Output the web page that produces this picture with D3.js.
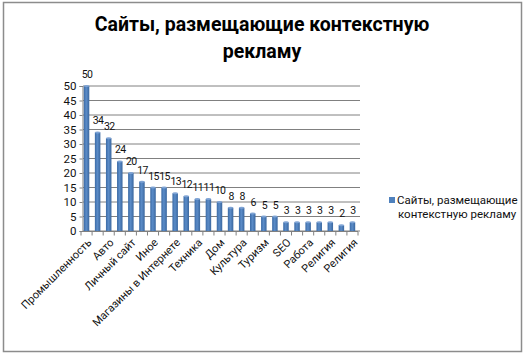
<!DOCTYPE html>
<html><head><meta charset="utf-8">
<script src="https://cdn.jsdelivr.net/npm/d3@7"></script>
<style>body{margin:0;background:#fff}svg{display:block}</style>
</head><body><svg id="c" width="525" height="355"></svg>
<script>
const categories = ["Промышленность","Финансы","Авто","Недвижимость","Личный сайт","Образование","Иное","Здоровье","Магазины в Интернете","Развлечения","Техника","Строительство","Дом","Красота","Культура","Спорт","Туризм","Услуги","SEO","Медицина","Работа","Хостинг","Религия","Дети","Религия"];
const values = [50,34,32,24,20,17,15,15,13,12,11,11,10,8,8,6,5,5,3,3,3,3,3,2,3];
const yTicks = [0,5,10,15,20,25,30,35,40,45,50];
const seriesName = "Сайты, размещающие контекстную рекламу";
const titleLines = ["Сайты, размещающие контекстную","рекламу"];

const font = "Roboto, 'Liberation Sans', sans-serif";
const svg = d3.select("#c");
svg.append("rect").attr("x",3.5).attr("y",2.5).attr("width",518).attr("height",349)
  .attr("fill","#fff").attr("stroke","#8c8c8c").attr("stroke-width",1.5);

const keys = categories.map((d,i)=>i);
const x = d3.scaleBand().domain(keys).range([81,358]).paddingInner(0).paddingOuter(0);
const y = d3.scaleLinear().domain([0,50]).range([231,86]);

// gridlines
svg.append("g").selectAll("line").data(yTicks).join("line")
  .attr("x1",83).attr("x2",360).attr("y1",d=>y(d)).attr("y2",d=>y(d))
  .attr("stroke","#808080").attr("stroke-width",1);

// y axis
const ya = d3.axisLeft(y).tickValues(yTicks).tickSize(3).tickPadding(3);
const gy = svg.append("g").attr("transform","translate(82.5,0)").call(ya);
gy.select(".domain").attr("stroke","#808080");
gy.selectAll(".tick line").attr("stroke","#808080");
gy.selectAll("text").attr("font-family",font).attr("font-size",11.5).attr("fill","#111");

// x axis
const gx = svg.append("g").attr("transform","translate(0,231.5)");
gx.append("line").attr("x1",x.range()[0]).attr("x2",x.range()[1]).attr("stroke","#808080");
gx.selectAll("line.t").data(d3.range(categories.length+1)).join("line").attr("class","t")
  .attr("x1",i=>x.range()[0]+i*x.step()).attr("x2",i=>x.range()[0]+i*x.step())
  .attr("y1",0).attr("y2",4).attr("stroke","#808080");
gx.selectAll("text").data(keys.filter(i=>i%2===0)).join("text")
  .attr("transform",i=>`translate(${x(i)+x.bandwidth()/2+3},${9}) rotate(-45)`)
  .attr("text-anchor","end").attr("dy","0.35em")
  .attr("font-family",font).attr("font-size",11).attr("fill","#111")
  .text(i=>categories[i]);

// bars gradient
const defs = svg.append("defs");
const gr = defs.append("linearGradient").attr("id","bg").attr("x1",0).attr("x2",1);
gr.append("stop").attr("offset",0).attr("stop-color","#3b6aa5");
gr.append("stop").attr("offset",0.45).attr("stop-color","#5b8cc8");
gr.append("stop").attr("offset",1).attr("stop-color","#3a679f");

const bw = 5.5;
const bars = svg.append("g");
bars.selectAll("rect").data(keys).join("rect")
  .attr("x",i=>x(i)+x.bandwidth()/2-bw/2).attr("width",bw)
  .attr("y",i=>y(values[i])).attr("height",i=>y(0)-y(values[i]))
  .attr("fill","url(#bg)");
bars.selectAll("ellipse").data(keys).join("ellipse")
  .attr("cx",i=>x(i)+x.bandwidth()/2).attr("cy",i=>y(values[i]))
  .attr("rx",bw/2).attr("ry",1).attr("fill","#7ea3d4");

// value labels
svg.append("g").selectAll("text").data(keys).join("text")
  .attr("x",i=>x(i)+x.bandwidth()/2+0.5).attr("y",i=>y(values[i])-8)
  .attr("text-anchor","middle").attr("font-family",font).attr("font-size",10.5)
  .attr("letter-spacing","-0.6px").attr("fill","#111")
  .text(i=>values[i]);

// title
svg.append("g").selectAll("text").data(titleLines).join("text")
  .attr("x",262).attr("y",(d,i)=>31+i*27).attr("text-anchor","middle")
  .attr("font-family",font).attr("font-weight","bold").attr("font-size",19.5).attr("fill","#000")
  .text(d=>d);

// legend
svg.append("rect").attr("x",389).attr("y",197).attr("width",6).attr("height",6).attr("fill","#4f81bd");
const lt = svg.append("text").attr("font-family",font).attr("font-size",11.5).attr("fill","#111");
lt.append("tspan").attr("x",397).attr("y",204).text("Сайты, размещающие");
lt.append("tspan").attr("x",398).attr("y",218).text("контекстную рекламу");
</script></body></html>
